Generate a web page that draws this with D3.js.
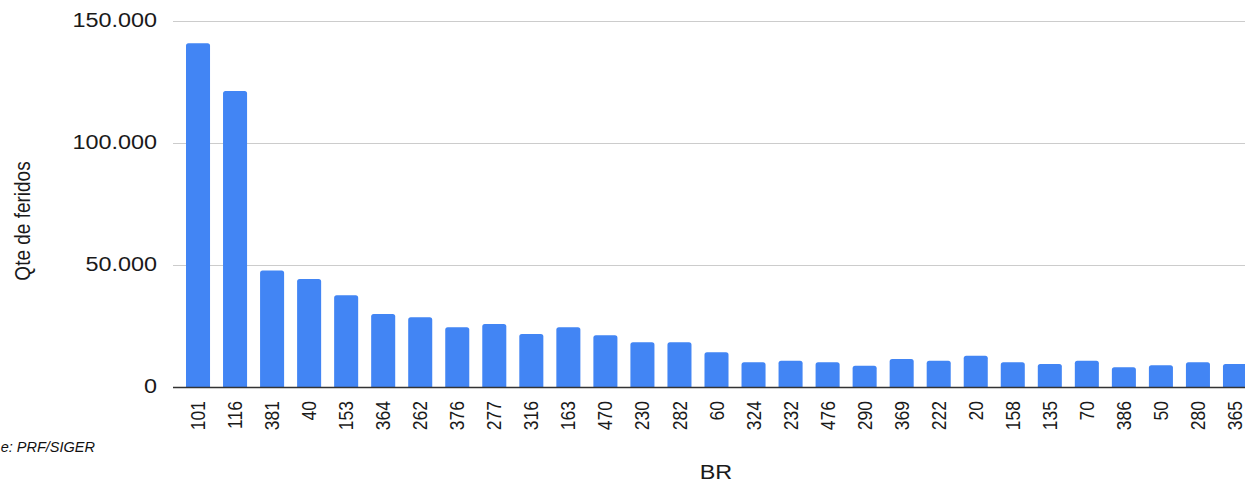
<!DOCTYPE html>
<html>
<head>
<meta charset="utf-8">
<script src="https://cdn.jsdelivr.net/npm/d3@7"></script>
<style>
  html, body { margin: 0; padding: 0; background: #fff; overflow: hidden; }
  svg { display: block; }
  text { font-family: "Liberation Sans", Arial, sans-serif; fill: #1a1a1a; }
</style>
</head>
<body>
<svg id="chart" width="1245" height="483"></svg>
<script>
const categories = ["101","116","381","40","153","364","262","376","277","316","163","470","230","282","60","324","232","476","290","369","222","20","158","135","70","386","50","280","365"];
const values = [140900,121300,47700,44300,37600,29900,28600,24500,25800,21700,24500,21200,18300,18300,14200,10100,10800,10100,8700,11500,10800,12800,10100,9400,10800,8100,8900,10100,9400];
const yTicks = [0, 50000, 100000, 150000];
const yTickLabels = ["0", "50.000", "100.000", "150.000"];
const yTitle = "Qte de feridos";
const xTitle = "BR";
const sourceNote = "e: PRF/SIGER";

const svg = d3.select("#chart");
const sx = 1.2; // horizontal stretch of the original picture's text

const y = d3.scaleLinear().domain([0, 150000]).range([387, 21]);
const x = d3.scaleBand().domain(categories).range([173, 1260]).paddingInner(0.351).paddingOuter(0.351);

// gridlines
svg.append("g").selectAll("line").data(yTicks.filter(d => d !== 0)).join("line")
  .attr("x1", 173).attr("x2", 1245)
  .attr("y1", d => Math.round(y(d)) + 0.5).attr("y2", d => Math.round(y(d)) + 0.5)
  .attr("stroke", "#cccccc").attr("stroke-width", 1);

// bars with rounded top corners
const r = 2.5;
svg.append("g").selectAll("path").data(values).join("path")
  .attr("fill", "#4285F4")
  .attr("d", (d, i) => {
    const x0 = x(categories[i]), w = x.bandwidth(), y0 = y(d), yb = y(0);
    return `M${x0},${yb}V${y0 + r}Q${x0},${y0} ${x0 + r},${y0}H${x0 + w - r}Q${x0 + w},${y0} ${x0 + w},${y0 + r}V${yb}Z`;
  });

// baseline
svg.append("line")
  .attr("x1", 173).attr("x2", 1245)
  .attr("y1", y(0) + 0.5).attr("y2", y(0) + 0.5)
  .attr("stroke", "#333333").attr("stroke-width", 1.5);

// y tick labels
svg.append("g").selectAll("text").data(yTicks).join("text")
  .attr("transform", d => `translate(157,${y(d)}) scale(${sx},1)`)
  .attr("text-anchor", "end")
  .attr("dominant-baseline", "central")
  .attr("font-size", 19.5)
  .text((d, i) => yTickLabels[i]);

// x tick labels
svg.append("g").selectAll("text").data(categories).join("text")
  .attr("transform", d => `translate(${x(d) + x.bandwidth() / 2},401) scale(${sx},1) rotate(-90)`)
  .attr("text-anchor", "end")
  .attr("dominant-baseline", "central")
  .attr("font-size", 17.5)
  .text(d => d);

// axis titles
svg.append("text")
  .attr("transform", `translate(22,221) scale(${sx},1) rotate(-90)`)
  .attr("text-anchor", "middle")
  .attr("dominant-baseline", "central")
  .attr("font-size", 19)
  .text(yTitle);

svg.append("text")
  .attr("transform", `translate(716,479) scale(${sx},1)`)
  .attr("text-anchor", "middle")
  .attr("font-size", 19.5)
  .text(xTitle);

// source note (only its visible end shows in the original)
svg.append("text")
  .attr("x", 95).attr("y", 452)
  .attr("text-anchor", "end")
  .attr("font-family", "'Open Sans', 'Noto Sans', sans-serif")
  .attr("font-style", "italic")
  .attr("font-size", 14.5)
  .style("fill", "#111")
  .text(sourceNote);
</script>
</body>
</html>
